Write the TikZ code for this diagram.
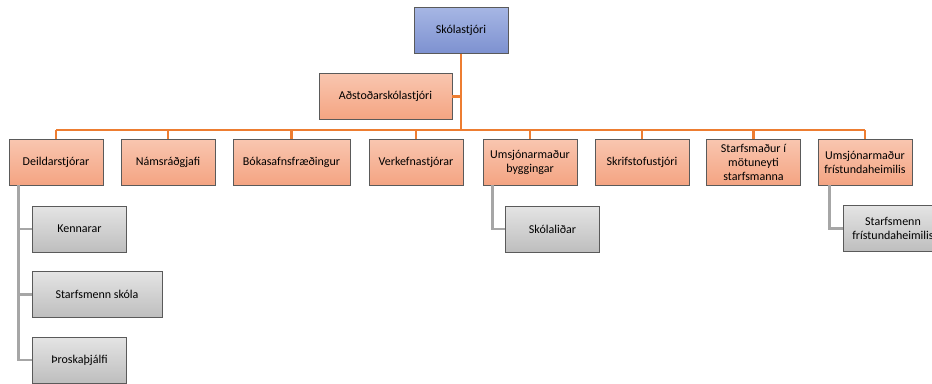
\documentclass[tikz,border=0pt]{standalone}
\usepackage{fontspec}
\setmainfont{Carlito}
\usetikzlibrary{positioning,calc}

\definecolor{orangeline}{HTML}{ED7D31}
\definecolor{grayline}{HTML}{A6A6A6}
\definecolor{boxedge}{HTML}{5A5A5A}

\tikzset{
  box/.style={draw=boxedge,line width=0.9pt,minimum width=94pt,minimum height=46pt,
    align=center,inner sep=2pt,font=\fontsize{12}{14}\selectfont},
  headbox/.style={box,top color={rgb,255:red,166;green,182;blue,228},bottom color={rgb,255:red,125;green,145;blue,208}},
  staffbox/.style={box,top color={rgb,255:red,249;green,198;blue,176},bottom color={rgb,255:red,244;green,164;blue,130}},
  subbox/.style={box,top color={rgb,255:red,228;green,228;blue,228},bottom color={rgb,255:red,190;green,190;blue,190}},
  orangelink/.style={draw=orangeline,line width=2.4pt},
  graylink/.style={draw=grayline,line width=2.4pt}
}

\begin{document}
\begin{tikzpicture}[x=1pt,y=-1pt]
\useasboundingbox (0,0) rectangle (932,383);

% Head and assistant
\node[headbox] (head) at (461,30.5) {Skólastjóri};
\node[staffbox,minimum width=133pt] (assist) at (385.5,96.5) {Aðstoðarskólastjóri};

% Second level
\coordinate (bar) at (0,130);
\node[staffbox] (deild) at (56,162) {Deildarstjórar};
\node[staffbox] (nams) at (168,162) {Námsráðgjafi};
\node[staffbox,minimum width=117pt] (bok) at (291.5,162) {Bókasafnsfræðingur};
\node[staffbox] (verk) at (416,162) {Verkefnastjórar};
\node[staffbox] (bygg) at (530,162) {Umsjónarmaður\\byggingar};
\node[staffbox] (skrif) at (642,162) {Skrifstofustjóri};
\node[staffbox] (motu) at (753.5,162) {Starfsmaður í\\mötuneyti\\starfsmanna};
\node[staffbox] (fristund) at (865,162) {Umsjónarmaður\\frístundaheimilis};

% Third level
\node[subbox] (kenn) at (79.5,229) {Kennarar};
\node[subbox,minimum width=130pt] (skola) at (97,294.5) {Starfsmenn skóla};
\node[subbox] (throska) at (79.5,360) {Þroskaþjálfi};
\node[subbox] (lidar) at (552.5,229) {Skólaliðar};
\node[subbox,minimum width=100pt] (frist2) at (893,228.5) {Starfsmenn\\frístundaheimilis};

% Orange tree
\draw[orangelink] (head.south) -- (head.south |- bar);
\draw[orangelink] (assist.east) -- (assist.east -| head.south);
\draw[orangelink] (deild.north |- bar) -- (fristund.north |- bar);
\foreach \n in {deild,nams,bok,verk,bygg,skrif,motu,fristund}
  \draw[orangelink] (\n.north) -- (\n.north |- bar);

% Gray links
\coordinate (dtrunk) at ($(deild.south west)+(10,0)$);
\draw[graylink] (dtrunk) |- (kenn.west);
\draw[graylink] (dtrunk) |- (skola.west);
\draw[graylink] (dtrunk) |- (throska.west);
\coordinate (btrunk) at ($(bygg.south west)+(10,0)$);
\draw[graylink] (btrunk) |- (lidar.west);
\coordinate (ftrunk) at ($(fristund.south west)+(12,0)$);
\draw[graylink] (ftrunk) |- (frist2.west);

\end{tikzpicture}
\end{document}
